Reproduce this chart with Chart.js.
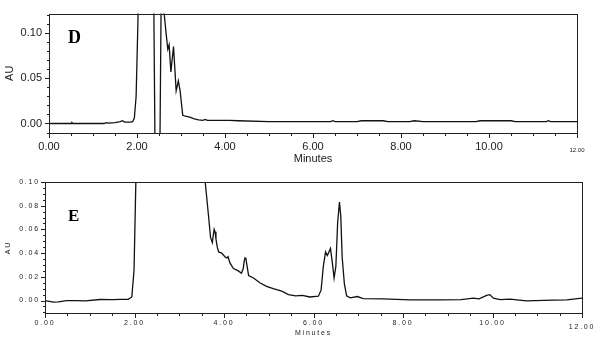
<!DOCTYPE html>
<html>
<head>
<meta charset="utf-8">
<script src="https://cdn.jsdelivr.net/npm/chart.js@4"></script>
<style>
  body { margin: 0; background: #fff; }
  .panel { position: absolute; left: 0; }
</style>
</head>
<body>
<div class="panel" style="top:0"><canvas id="chartD" width="609" height="170"></canvas></div>
<div class="panel" style="top:170px"><canvas id="chartE" width="609" height="171"></canvas></div>
<script>
// Panel D trace (minutes, AU)
const timesD = [
  0, 0.5, 0.52, 0.55, 1.25, 1.3, 1.35, 1.5, 1.62, 1.67,
  1.72, 1.85, 1.9, 1.94, 1.98, 2.02, 2.05, 2.37, 2.41, 2.52,
  2.56, 2.60, 2.62, 2.66, 2.70, 2.73, 2.77, 2.83, 2.89, 2.94,
  2.98, 3.04, 3.1, 3.2, 3.3, 3.4, 3.5, 3.55, 3.6, 4.1,
  4.3, 5.0, 6.4, 6.45, 6.5, 7.0, 7.1, 7.6, 7.7, 8.2,
  8.3, 8.5, 9.7, 9.8, 10.5, 10.6, 11.3, 11.35, 11.4, 12
];
const auD = [
  0, 0, 0.001, 0, 0, 0.001, 0.0005, 0.001, 0.002, 0.003,
  0.0015, 0.0015, 0.002, 0.006, 0.03, 0.11, 0.2, 0.2, -0.03, -0.03,
  0.2, 0.125, 0.12, 0.10, 0.082, 0.087, 0.057, 0.085, 0.036, 0.047,
  0.036, 0.009, 0.008, 0.007, 0.005, 0.004, 0.0035, 0.0045, 0.0035, 0.0035,
  0.003, 0.002, 0.002, 0.003, 0.002, 0.002, 0.003, 0.003, 0.002, 0.002,
  0.003, 0.002, 0.002, 0.003, 0.003, 0.002, 0.002, 0.003, 0.002, 0.002
];

// Panel E trace (minutes, AU)
const timesE = [
  0, 0.19, 0.3, 0.48, 0.7, 0.9, 1.23, 1.5, 1.7, 1.86,
  1.94, 1.99, 2.03, 2.06, 3.52, 3.58, 3.65, 3.70, 3.74, 3.76,
  3.78, 3.80, 3.82, 3.85, 3.88, 3.95, 4.02, 4.06, 4.09, 4.13,
  4.21, 4.32, 4.39, 4.43, 4.45, 4.47, 4.49, 4.52, 4.55, 4.66,
  4.80, 4.95, 5.10, 5.29, 5.44, 5.6, 5.75, 5.92, 6.11, 6.17,
  6.22, 6.27, 6.31, 6.38, 6.43, 6.46, 6.50, 6.54, 6.58, 6.61,
  6.64, 6.69, 6.74, 6.82, 6.98, 7.11, 7.56, 8.16, 8.83, 9.3,
  9.57, 9.7, 9.87, 9.94, 10.02, 10.17, 10.39, 10.76, 11.36, 11.66,
  12
];
const auE = [
  0, -0.0014, -0.0012, 0, 0, -0.0003, 0.0009, 0.0007, 0.001, 0.001,
  0.003, 0.026, 0.1, 0.2, 0.2, 0.1, 0.073, 0.053, 0.049, 0.055,
  0.060, 0.058, 0.052, 0.045, 0.041, 0.040, 0.037, 0.036, 0.037, 0.032,
  0.027, 0.025, 0.023, 0.027, 0.033, 0.036, 0.035, 0.028, 0.021, 0.019,
  0.015, 0.012, 0.010, 0.008, 0.005, 0.004, 0.0044, 0.003, 0.0037, 0.009,
  0.029, 0.041, 0.038, 0.044, 0.029, 0.019, 0.029, 0.066, 0.083, 0.071,
  0.037, 0.014, 0.004, 0.0023, 0.0034, 0.0017, 0.0014, 0.0006, 0.0006, 0.0008,
  0.002, 0.0015, 0.0043, 0.005, 0.002, 0.0008, 0.0012, -0.0003, 0.0003, 0.0006,
  0.002
];

// Axis ticks
const xMajorTicks = [0, 2, 4, 6, 8, 10, 12];
const yMajorTicksD = [0, 0.05, 0.10];
const yMajorTicksE = [0, 0.02, 0.04, 0.06, 0.08, 0.10];

const SANS = '"Liberation Sans", Arial, sans-serif';
const SERIF = '"Liberation Serif", "Times New Roman", serif';
const INK = '#222';

function toPoints(xs, ys) {
  return xs.map((x, i) => ({ x: x, y: ys[i] }));
}

function stepValues(min, max, step) {
  const out = [];
  for (let v = min; v <= max + 1e-9; v += step) out.push(Math.round(v * 1e4) / 1e4);
  return out;
}

// draws the box frame, tick marks and panel letter
const framePlugin = {
  id: 'frame',
  beforeDraw(chart, args, opts) {
    chart.ctx.letterSpacing = opts.spacing || '0px';
  },
  afterDraw(chart, args, opts) {
    const { ctx, chartArea: a, scales: { x, y } } = chart;
    ctx.save();
    ctx.letterSpacing = '0px';
    ctx.strokeStyle = INK;
    ctx.lineWidth = 1;
    ctx.strokeRect(Math.round(a.left) + 0.5, Math.round(a.top) + 0.5,
      Math.round(a.right - a.left), Math.round(a.bottom - a.top));
    ctx.beginPath();
    opts.xMinor.forEach(v => {
      const px = Math.round(x.getPixelForValue(v)) + 0.5;
      const len = xMajorTicks.includes(v) ? 5 : 3;
      ctx.moveTo(px, a.bottom);
      ctx.lineTo(px, a.bottom + len);
    });
    opts.yMinor.forEach(v => {
      const py = Math.round(y.getPixelForValue(v)) + 0.5;
      const len = opts.yMajor.some(m => Math.abs(m - v) < 1e-6) ? 4 : 2;
      ctx.moveTo(a.left, py);
      ctx.lineTo(a.left - len, py);
    });
    ctx.stroke();
    ctx.fillStyle = '#000';
    ctx.font = opts.letterFont;
    ctx.textAlign = 'left';
    ctx.textBaseline = 'alphabetic';
    ctx.fillText(opts.letter, opts.letterX, opts.letterY);
    ctx.restore();
  }
};

function makeChart(id, cfg) {
  return new Chart(document.getElementById(id), {
    type: 'line',
    data: {
      datasets: [{
        data: toPoints(cfg.times, cfg.values),
        borderColor: '#111',
        borderWidth: 1.3,
        pointRadius: 0,
        tension: 0,
        clip: 0
      }]
    },
    options: {
      responsive: false,
      animation: false,
      parsing: false,
      layout: { padding: cfg.padding },
      plugins: {
        legend: { display: false },
        tooltip: { enabled: false },
        frame: cfg.frame
      },
      scales: {
        x: {
          type: 'linear',
          min: 0,
          max: 12,
          afterBuildTicks: s => { s.ticks = xMajorTicks.map(v => ({ value: v })); },
          afterFit: s => { s.height = cfg.xHeight; },
          grid: { display: false, drawTicks: false },
          border: { display: false },
          ticks: {
            autoSkip: false,
            maxRotation: 0,
            padding: cfg.xPad,
            color: INK,
            font: c => (c.tick && c.tick.value === 12) ? cfg.lastFont : cfg.tickFont,
            callback: v => v.toFixed(2)
          },
          title: {
            display: true,
            text: 'Minutes',
            color: INK,
            font: cfg.titleFont,
            padding: { top: 0, bottom: cfg.titlePadB }
          }
        },
        y: {
          min: cfg.yMin,
          max: cfg.yMax,
          afterBuildTicks: s => { s.ticks = cfg.yMajor.map(v => ({ value: v })); },
          afterFit: s => { s.width = cfg.yWidth; },
          grid: { display: false, drawTicks: false },
          border: { display: false },
          ticks: {
            padding: cfg.yPad,
            color: INK,
            font: cfg.tickFont,
            callback: v => v.toFixed(2)
          },
          title: {
            display: true,
            text: 'AU',
            color: INK,
            font: cfg.titleFont,
            padding: { top: cfg.titlePadL, bottom: 0 }
          }
        }
      }
    },
    plugins: [framePlugin]
  });
}

document.addEventListener('DOMContentLoaded', () => {
  makeChart('chartD', {
    times: timesD, values: auD,
    padding: { left: 0, top: 10, right: 32, bottom: 0 },
    xHeight: 37, yWidth: 49,
    yMin: -0.0105, yMax: 0.1213, yMajor: yMajorTicksD,
    xPad: 7, yPad: 7,
    tickFont: { family: SANS, size: 11 },
    lastFont: { family: SANS, size: 6, lineHeight: 3.3 },
    titleFont: { family: SANS, size: 11 },
    titlePadB: 4, titlePadL: 3,
    frame: {
      xMinor: stepValues(0, 12, 0.5),
      yMinor: stepValues(-0.01, 0.12, 0.01),
      yMajor: yMajorTicksD,
      letter: 'D', letterFont: 'bold 18px ' + SERIF, letterX: 68, letterY: 43
    }
  });
  makeChart('chartE', {
    times: timesE, values: auE,
    padding: { left: 0, top: 12, right: 27, bottom: 0 },
    xHeight: 28, yWidth: 45,
    yMin: -0.0105, yMax: 0.10, yMajor: yMajorTicksE,
    xPad: 5.5, yPad: 5,
    tickFont: { family: SANS, size: 7 },
    lastFont: { family: SANS, size: 7, lineHeight: 2.34 },
    titleFont: { family: SANS, size: 7 },
    titlePadB: 4, titlePadL: 4,
    frame: {
      spacing: '1.8px',
      xMinor: stepValues(0, 12, 0.5),
      yMinor: stepValues(-0.01, 0.10, 0.005),
      yMajor: yMajorTicksE,
      letter: 'E', letterFont: 'bold 17px ' + SERIF, letterX: 68, letterY: 51
    }
  });
});
</script>
</body>
</html>
